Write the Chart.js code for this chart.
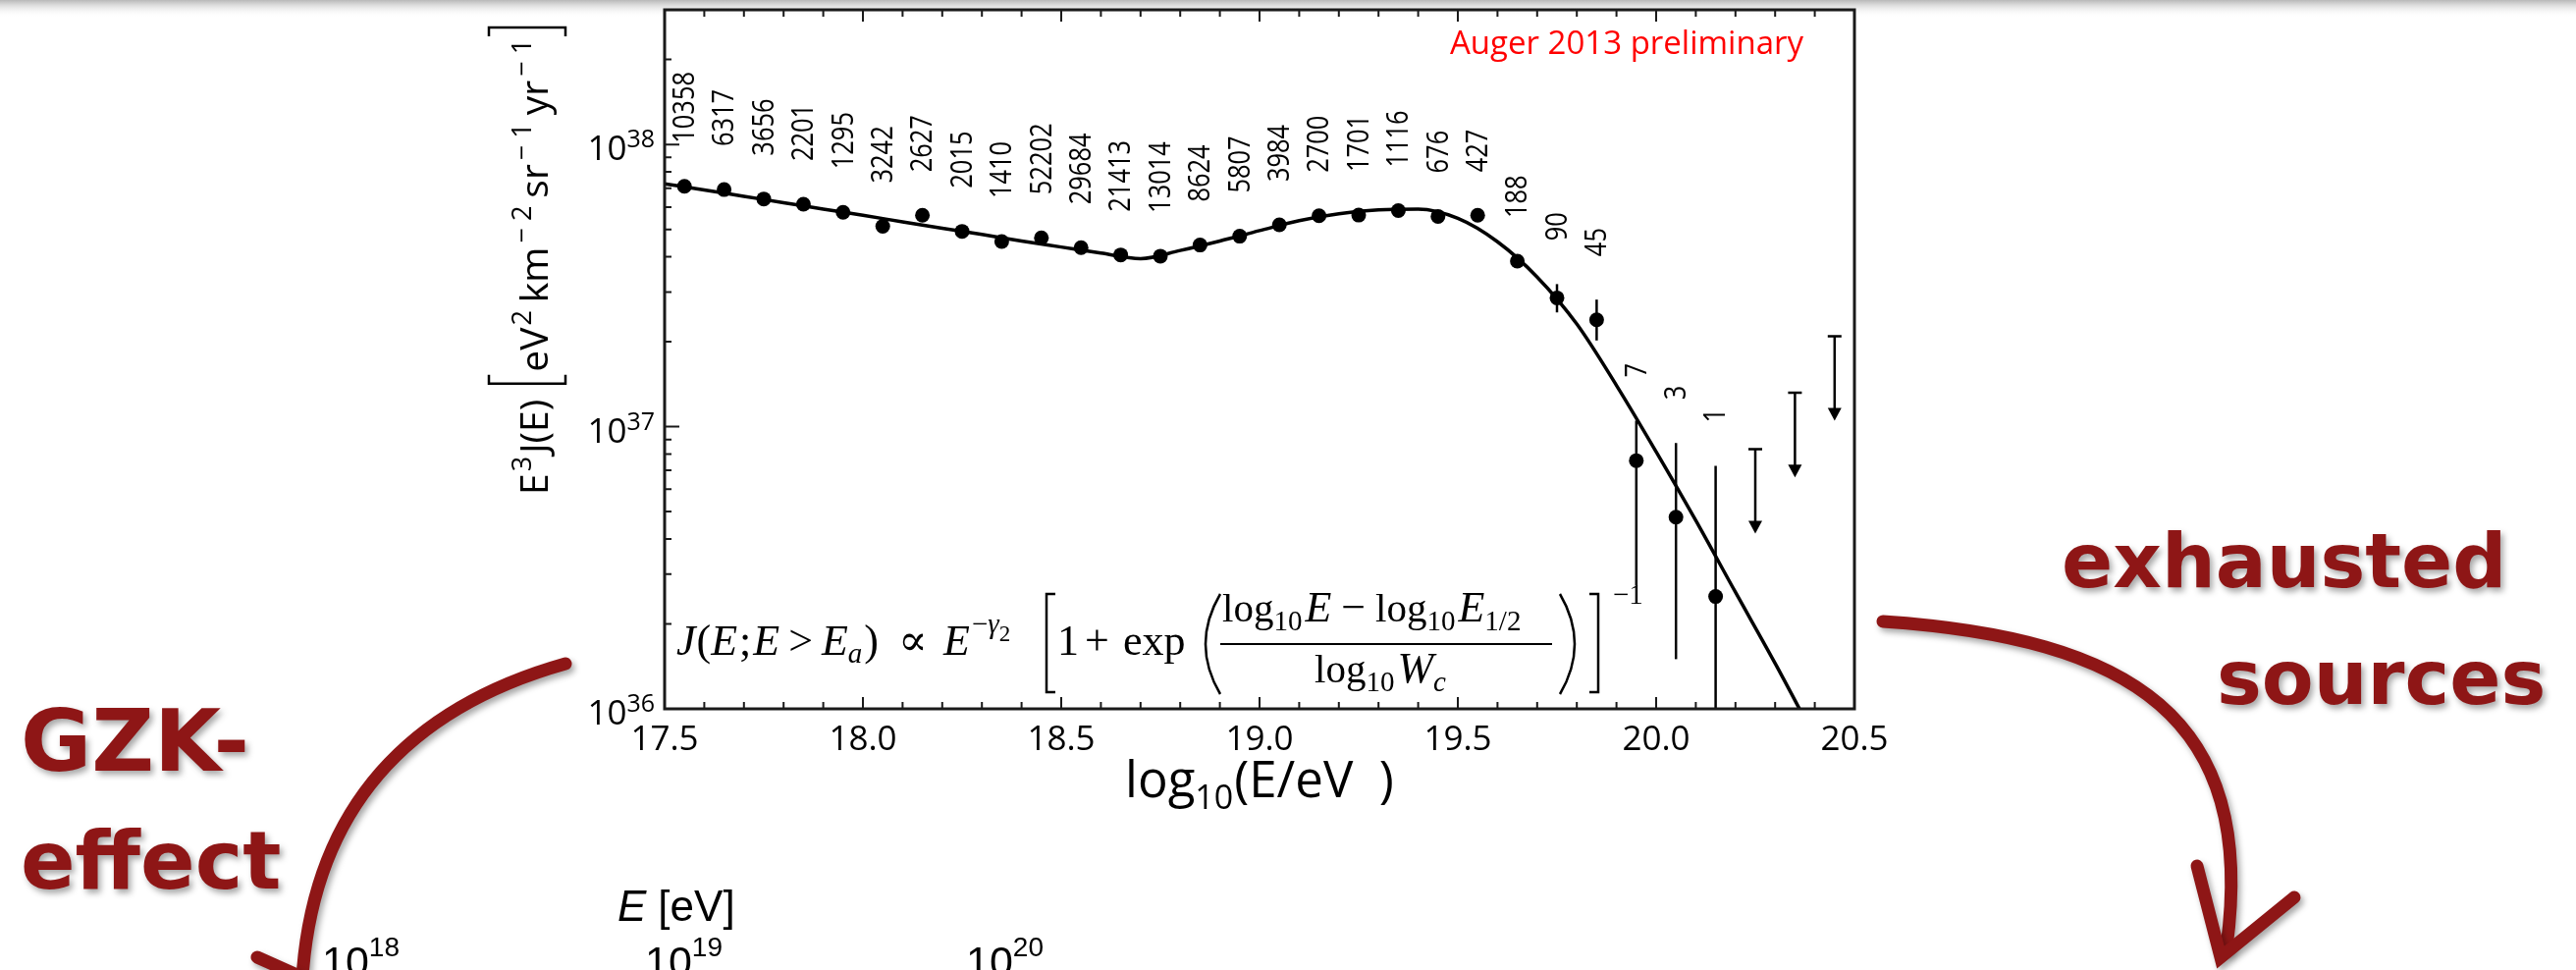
<!DOCTYPE html>
<html lang="en">
<head>
<meta charset="UTF-8">
<title>Auger 2013 spectrum</title>
<script src="https://cdn.jsdelivr.net/npm/chart.js"></script>
<style>
    html, body { margin: 0; padding: 0; background: #fff; }
    #wrap { width: 2624px; height: 988px; }
</style>
</head>
<body>
<div id="wrap"><canvas id="spectrum" width="2624" height="988"></canvas></div>
<script>
// bin centres, log10(E/eV)
const binCentres = [17.55, 17.65, 17.75, 17.85, 17.95, 18.05, 18.15, 18.25, 18.35,
    18.45, 18.55, 18.65, 18.75, 18.85, 18.95, 19.05, 19.15, 19.25, 19.35, 19.45,
    19.55, 19.65, 19.75, 19.85, 19.95, 20.05, 20.15];
// E^3 J(E) in eV^2 km^-2 sr^-1 yr^-1
const flux = [7.11e37, 6.92e37, 6.41e37, 6.14e37, 5.75e37, 5.13e37, 5.61e37, 4.92e37, 4.53e37,
    4.67e37, 4.31e37, 4.06e37, 4.02e37, 4.40e37, 4.73e37, 5.19e37, 5.59e37, 5.62e37,
    5.83e37, 5.56e37, 5.61e37, 3.86e37, 2.86e37, 2.39e37, 7.58e36, 4.78e36, 2.50e36];
// error bars (only the visible ones)
const errHigh = [null, null, null, null, null, null, null, null, null, null, null, null, null, null,
    null, null, null, null, null, null, null, null, 3.2e37, 2.82e37, 1.05e37, 8.75e36, 7.26e36];
const errLow = [null, null, null, null, null, null, null, null, null, null, null, null, null, null,
    null, null, null, null, null, null, null, null, 2.54e37, 2.02e37, 2.73e36, 1.50e36, 5e35];
// number of events per bin
const counts = [10358, 6317, 3656, 2201, 1295, 3242, 2627, 2015, 1410, 52202, 29684, 21413,
    13014, 8624, 5807, 3984, 2700, 1701, 1116, 676, 427, 188, 90, 45, 7, 3, 1];
// upper limits
const limitE = [20.25, 20.35, 20.45];
const limitTop = [8.32e36, 1.32e37, 2.09e37];
const limitTip = [4.18e36, 6.61e36, 1.05e37];
// fitted function
const fitE = [17.5, 17.6, 17.7, 17.8, 17.9, 18.0, 18.1, 18.2, 18.3, 18.4, 18.5, 18.6, 18.7,
    18.8, 18.9, 19.0, 19.1, 19.2, 19.3, 19.4, 19.5, 19.6, 19.7, 19.8, 19.9, 20.0, 20.1,
    20.2, 20.3, 20.4];
const fitFlux = [7.26e37, 6.90e37, 6.55e37, 6.22e37, 5.90e37, 5.61e37, 5.32e37, 5.05e37, 4.80e37,
    4.55e37, 4.33e37, 4.12e37, 3.94e37, 4.21e37, 4.55e37, 4.95e37, 5.37e37, 5.68e37, 5.86e37,
    5.90e37, 5.47e37, 4.52e37, 3.39e37, 2.31e37, 1.40e37, 8.15e36, 4.65e36, 2.59e36, 1.45e36, 7.9e35];
// axis labels
const xTicks = [17.5, 18.0, 18.5, 19.0, 19.5, 20.0, 20.5];
const yDecades = [36, 37, 38];

const SANS = '"Open Sans", "Noto Sans", sans-serif';
const SERIF = '"Liberation Serif", "DejaVu Serif", serif';
const HELV = '"Liberation Sans", sans-serif';
const RED = '#8e1616';

// draws a run of [text, font, dy, extra gap] pieces from x, returns end x
function run(ctx, x, y, pieces) {
    pieces.forEach(p => {
        ctx.font = p[1];
        ctx.fillText(p[0], x, y + (p[2] || 0));
        x += ctx.measureText(p[0]).width + (p[3] || 0);
    });
    return x;
}

function bracket(ctx, x, top, bottom, dir) {
    ctx.beginPath();
    ctx.moveTo(x + dir * 9, top);
    ctx.lineTo(x, top);
    ctx.lineTo(x, bottom);
    ctx.lineTo(x + dir * 9, bottom);
    ctx.stroke();
}

function paren(ctx, x, top, bottom, dir) {
    ctx.beginPath();
    ctx.moveTo(x, top);
    ctx.quadraticCurveTo(x - dir * 30, (top + bottom) / 2, x, bottom);
    ctx.stroke();
}

const decor = {
    id: 'decor',
    beforeDraw(chart) {
        const ctx = chart.ctx;
        ctx.save();
        ctx.fillStyle = '#fff';
        ctx.fillRect(0, 0, chart.width, chart.height);
        const g = ctx.createLinearGradient(0, 0, 0, 18);
        g.addColorStop(0, '#b8b8b8');
        g.addColorStop(1, 'rgba(255,255,255,0)');
        ctx.fillStyle = g;
        ctx.fillRect(0, 0, chart.width, 18);
        ctx.restore();
    },
    beforeDatasetsDraw(chart) {
        const ctx = chart.ctx, xs = chart.scales.x, ys = chart.scales.y, a = chart.chartArea;
        ctx.save();
        ctx.beginPath();
        ctx.rect(a.left, a.top, a.width, a.height);
        ctx.clip();
        ctx.strokeStyle = '#000';
        ctx.fillStyle = '#000';
        ctx.lineWidth = 2.5;
        binCentres.forEach((e, i) => {
            if (errHigh[i] == null) return;
            const px = xs.getPixelForValue(e);
            ctx.beginPath();
            ctx.moveTo(px, ys.getPixelForValue(errHigh[i]));
            ctx.lineTo(px, ys.getPixelForValue(errLow[i]));
            ctx.stroke();
        });
        limitE.forEach((e, i) => {
            const px = xs.getPixelForValue(e);
            const top = ys.getPixelForValue(limitTop[i]);
            const tip = ys.getPixelForValue(limitTip[i]);
            ctx.beginPath();
            ctx.moveTo(px - 7, top);
            ctx.lineTo(px + 7, top);
            ctx.moveTo(px, top);
            ctx.lineTo(px, tip - 8);
            ctx.stroke();
            ctx.beginPath();
            ctx.moveTo(px - 7, tip - 13);
            ctx.lineTo(px + 7, tip - 13);
            ctx.lineTo(px, tip);
            ctx.closePath();
            ctx.fill();
        });
        ctx.restore();
    },
    afterDraw(chart) {
        const ctx = chart.ctx, xs = chart.scales.x, ys = chart.scales.y, a = chart.chartArea;
        ctx.save();
        ctx.strokeStyle = '#1a1a1a';
        ctx.fillStyle = '#000';

        // ticks, pointing inwards
        ctx.lineWidth = 2;
        ctx.beginPath();
        for (let t = 175; t <= 205; t++) {
            const px = xs.getPixelForValue(t / 10);
            const len = t % 5 === 0 ? 12 : 7;
            ctx.moveTo(px, a.bottom);
            ctx.lineTo(px, a.bottom - len);
            ctx.moveTo(px, a.top);
            ctx.lineTo(px, a.top + len);
        }
        yDecades.forEach(d => {
            for (let m = 1; m <= 9; m++) {
                const v = m * Math.pow(10, d);
                if (v > ys.max) break;
                const py = ys.getPixelForValue(v);
                ctx.moveTo(a.left, py);
                ctx.lineTo(a.left + (m === 1 ? 15 : 7), py);
            }
        });
        ctx.stroke();

        // frame
        ctx.lineWidth = 3;
        ctx.strokeRect(a.left, a.top, a.width, a.height);

        // x tick labels
        ctx.font = '35px ' + SANS;
        ctx.textAlign = 'center';
        ctx.textBaseline = 'alphabetic';
        xTicks.forEach(v => ctx.fillText(v.toFixed(1), xs.getPixelForValue(v), a.bottom + 42));

        // y tick labels 10^n
        ctx.textAlign = 'left';
        yDecades.forEach(d => {
            const py = ys.getPixelForValue(Math.pow(10, d));
            ctx.font = '35px ' + SANS;
            const w10 = ctx.measureText('10').width;
            ctx.font = '25px ' + SANS;
            const ws = ctx.measureText(String(d)).width;
            const x0 = a.left - 10 - ws - w10;
            ctx.font = '35px ' + SANS;
            ctx.fillText('10', x0, py + 16);
            ctx.font = '25px ' + SANS;
            ctx.fillText(String(d), x0 + w10, py + 3);
        });

        // x title
        const xt = [['log', '51px ' + SANS, 0], ['10', '34px ' + SANS, 12, 1], ['(E/eV  )', '51px ' + SANS, 0]];
        let tw = 0;
        xt.forEach(p => { ctx.font = p[1]; tw += ctx.measureText(p[0]).width + (p[3] || 0); });
        run(ctx, (a.left + a.right) / 2 - tw / 2, a.bottom + 90, xt);

        // y title, rotated
        ctx.save();
        ctx.translate(558, 504);
        ctx.rotate(-Math.PI / 2);
        const f = '39px ' + SANS, fs = '27px ' + SANS;
        let x = run(ctx, 0, 0, [['E', f, 0, 2], ['3', fs, -17, 3], ['J(E)', f, 0]]);
        x += 16;
        ctx.lineWidth = 2.5;
        ctx.strokeStyle = '#000';
        const bx0 = x;
        x += 12;
        x = run(ctx, x, 0, [['eV', f, 0, 2], ['2', fs, -17, 8], ['km', f, 0, 4], ['\u2212 2', fs, -17, 8],
            ['sr', f, 0, 4], ['\u2212 1', fs, -17, 8], ['yr', f, 0, 4], ['\u2212 1', fs, -17, 0]]);
        x += 12;
        ctx.beginPath();
        ctx.moveTo(bx0 + 9, 18); ctx.lineTo(bx0, 18); ctx.lineTo(bx0, -60); ctx.lineTo(bx0 + 9, -60);
        ctx.moveTo(x - 9, 18); ctx.lineTo(x, 18); ctx.lineTo(x, -60); ctx.lineTo(x - 9, -60);
        ctx.stroke();
        ctx.restore();

        // event counts, rotated
        ctx.font = '31px ' + SANS;
        binCentres.forEach((e, i) => {
            const px = xs.getPixelForValue(e);
            let top = ys.getPixelForValue(flux[i]);
            if (errHigh[i] != null) top = Math.min(top, ys.getPixelForValue(errHigh[i]));
            ctx.save();
            ctx.translate(px, top - 44);
            ctx.rotate(-Math.PI / 2);
            ctx.scale(0.82, 1);
            ctx.textBaseline = 'middle';
            ctx.textAlign = 'left';
            ctx.fillText(String(counts[i]), 0, 1);
            ctx.restore();
        });

        // red tag
        ctx.fillStyle = '#ff0000';
        ctx.font = '33px ' + SANS;
        ctx.textAlign = 'right';
        ctx.fillText('Auger 2013 preliminary', a.right - 52, a.top + 45);

        // formula
        ctx.fillStyle = '#000';
        ctx.strokeStyle = '#000';
        ctx.textAlign = 'left';
        const base = a.bottom - 55;
        const it = 'italic 44px ' + SERIF, rm = '44px ' + SERIF, its = 'italic 29px ' + SERIF, rs = '29px ' + SERIF;
        run(ctx, a.left + 12, base, [['J', it, 0, 1], ['(', rm], ['E', it, 0, 2], [';', rm, 0, 2], ['E', it, 0, 9],
            ['>', rm, 0, 9], ['E', it], ['a', its, 8, 2], [')', rm]]);
        run(ctx, a.left + 238, base, [['\u221d', rm]]);
        let q = run(ctx, a.left + 284, base, [['E', it, 0, 2]]);
        q = run(ctx, q, base, [['\u2212', rs, -22], ['\u03b3', its, -22]]);
        run(ctx, q, base, [['2', '23px ' + SERIF, -14]]);
        ctx.lineWidth = 2.5;
        bracket(ctx, a.left + 389, base - 62, base + 38, 1);
        run(ctx, a.left + 400, base, [['1', rm]]);
        run(ctx, a.left + 428, base, [['+', rm]]);
        run(ctx, a.left + 467, base, [['exp', rm]]);
        paren(ctx, a.left + 566, base - 62, base + 40, 1);
        const nb = base - 34, db = base + 28;
        run(ctx, a.left + 568, nb, [['log', '41px ' + SERIF], ['10', rs, 9, 3], ['E', it, 0, 10], ['\u2212', rm, 0, 10],
            ['log', '41px ' + SERIF], ['10', rs, 9, 3], ['E', it], ['1/2', rs, 9]]);
        ctx.lineWidth = 2;
        ctx.beginPath();
        ctx.moveTo(a.left + 566, base - 11);
        ctx.lineTo(a.left + 904, base - 11);
        ctx.stroke();
        run(ctx, a.left + 662, db, [['log', '41px ' + SERIF], ['10', rs, 9, 3], ['W', it], ['c', its, 9]]);
        ctx.lineWidth = 2.5;
        paren(ctx, a.left + 912, base - 62, base + 40, -1);
        bracket(ctx, a.left + 951, base - 62, base + 38, -1);
        run(ctx, a.left + 966, base - 52, [['\u22121', rs]]);

        // slide annotations around the plot
        ctx.fillStyle = '#000';
        run(ctx, 629, 938, [['E', 'italic 44px ' + HELV, 0, 12], ['[eV]', '44px ' + HELV]]);
        [[328, '18'], [657, '19'], [984, '20']].forEach(p => {
            const e = run(ctx, p[0], 994, [['10', '43px ' + HELV]]);
            run(ctx, e, 974, [[p[1], '28px ' + HELV]]);
        });

        ctx.shadowColor = 'rgba(0,0,0,0.35)';
        ctx.shadowBlur = 6;
        ctx.shadowOffsetX = 3;
        ctx.shadowOffsetY = 4;
        ctx.fillStyle = RED;
        ctx.font = 'bold 88px "DejaVu Sans", sans-serif';
        ctx.fillText('GZK-', 21, 785);
        ctx.font = 'bold 82px "DejaVu Sans", sans-serif';
        ctx.fillText('effect', 21, 905);
        ctx.font = 'bold 77px "DejaVu Sans", sans-serif';
        ctx.fillText('exhausted', 2100, 598);
        ctx.fillText('sources', 2258, 717);

        ctx.strokeStyle = RED;
        ctx.lineCap = 'round';
        ctx.lineWidth = 13;
        ctx.beginPath();
        ctx.moveTo(576, 676);
        ctx.bezierCurveTo(420, 720, 320, 820, 308, 995);
        ctx.stroke();
        ctx.beginPath();
        ctx.moveTo(262, 975);
        ctx.lineTo(300, 992);
        ctx.stroke();
        ctx.beginPath();
        ctx.moveTo(1918, 633);
        ctx.bezierCurveTo(2170, 650, 2300, 730, 2268, 965);
        ctx.stroke();
        ctx.beginPath();
        ctx.moveTo(2238, 882);
        ctx.lineTo(2262, 975);
        ctx.lineTo(2337, 914);
        ctx.stroke();
        ctx.restore();
    }
};

const chart = new Chart(document.getElementById('spectrum'), {
    type: 'scatter',
    data: {
        datasets: [{
            label: 'Auger 2013',
            data: binCentres.map((e, i) => ({ x: e, y: flux[i] })),
            pointRadius: 7.5,
            pointBackgroundColor: '#000',
            pointBorderWidth: 0,
            order: 0
        }, {
            label: 'fit',
            type: 'line',
            data: fitE.map((e, i) => ({ x: e, y: fitFlux[i] })),
            showLine: true,
            borderColor: '#000',
            borderWidth: 3.5,
            pointRadius: 0,
            cubicInterpolationMode: 'monotone',
            order: 1
        }]
    },
    options: {
        responsive: false,
        animation: false,
        devicePixelRatio: 1,
        layout: { padding: { left: 677, right: 735, top: 10, bottom: 266 } },
        plugins: { legend: { display: false }, tooltip: { enabled: false } },
        scales: {
            x: { type: 'linear', min: 17.5, max: 20.5, display: false },
            y: { type: 'logarithmic', min: 1e36, max: 3e38, display: false }
        }
    },
    plugins: [decor]
});
</script>
</body>
</html>
